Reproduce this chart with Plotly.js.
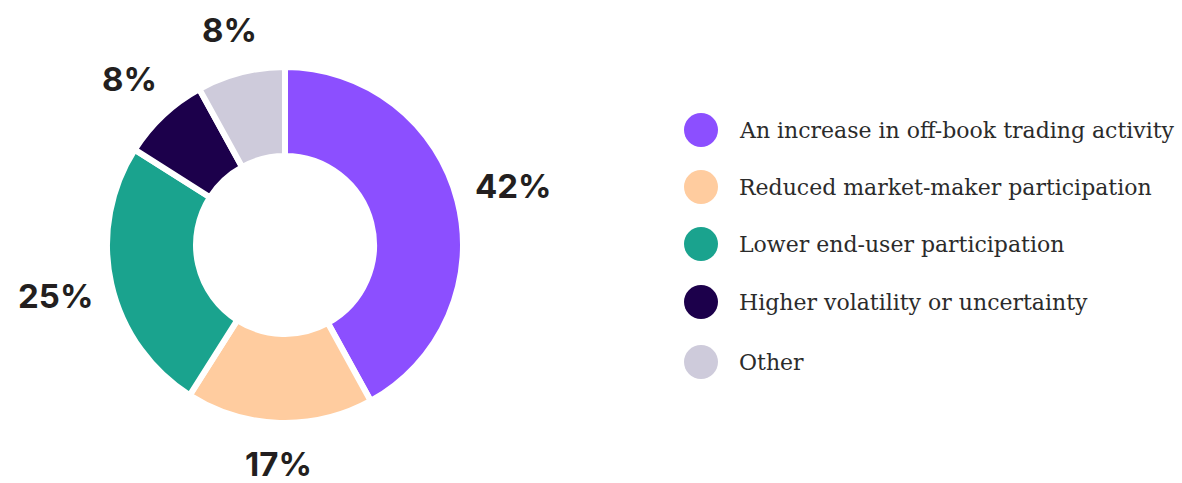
<!DOCTYPE html>
<html>
<head>
<meta charset="utf-8">
<script src="https://cdn.plot.ly/plotly-3.0.1.min.js"></script>
<style>html,body{margin:0;padding:0;background:#fff;}#chart{width:1182px;height:483px;}</style>
</head>
<body>
<div id="chart"></div>
<script>
const categories = [
  "An increase in off-book trading activity",
  "Reduced market-maker participation",
  "Lower end-user participation",
  "Higher volatility or uncertainty",
  "Other"
];
const shares = [42, 17, 25, 8, 8];
const colors = ["#8c4fff", "#ffcc9f", "#1aa38e", "#1c004b", "#cecbdb"];

const W = 1182, H = 483;
const px = x => x / W;
const py = y => 1 - y / H;

// pie placement (center 285,245 ; outer radius ~178)
const cx = 285, cy = 245, R = 178;

const pie = {
  type: "pie",
  values: shares,
  labels: categories,
  sort: false,
  direction: "clockwise",
  rotation: 0,
  hole: 0.5,
  marker: { colors: colors, line: { color: "#ffffff", width: 6 } },
  textinfo: "none",
  automargin: false,
  showlegend: false,
  hoverinfo: "label+percent",
  domain: { x: [px(cx - R), px(cx + R)], y: [py(cy + R), py(cy - R)] }
};

// percentage labels placed outside each slice, along its mid-angle
const labelFont = { family: "Inter, 'Open Sans', sans-serif", size: 33, weight: 700, color: "#231f20" };
const total = shares.reduce((a, b) => a + b, 0);
const labelAnn = [];
let cum = 0;
shares.forEach((v, i) => {
  const mid = (cum + v / 2) / total * 2 * Math.PI;
  cum += v;
  const s = Math.sin(mid), c = -Math.cos(mid);
  const txt = v + "%";
  const w = txt.length * 0.62 * labelFont.size * 0.95, h = 28;
  const d = 204 + Math.abs(s) * w / 2 + Math.abs(c) * h / 2;
  labelAnn.push({
    xref: "paper", yref: "paper", x: px(cx + d * s), y: py(cy + d * c),
    xanchor: "center", yanchor: "middle", showarrow: false,
    text: txt, font: labelFont
  });
});

// manual legend with large circle markers
const legendY = [130, 187, 244, 302, 362];
const shapes = categories.map((c, i) => ({
  type: "circle", xref: "paper", yref: "paper",
  x0: px(684), x1: px(718), y0: py(legendY[i] + 17), y1: py(legendY[i] - 17),
  fillcolor: colors[i], line: { width: 0 }
}));
const legendAnn = categories.map((c, i) => ({
  xref: "paper", yref: "paper", x: px(737), y: py(legendY[i]),
  xanchor: "left", yanchor: "middle", showarrow: false,
  text: c, font: { family: "'DejaVu Serif', serif", size: 22, color: "#2b2b2b" }
}));

const layout = {
  width: W, height: H,
  margin: { l: 0, r: 0, t: 0, b: 0 },
  paper_bgcolor: "#ffffff",
  plot_bgcolor: "#ffffff",
  showlegend: false,
  shapes: shapes,
  annotations: labelAnn.concat(legendAnn)
};

Plotly.newPlot("chart", [pie], layout, { displayModeBar: false, staticPlot: true });
</script>
</body>
</html>
